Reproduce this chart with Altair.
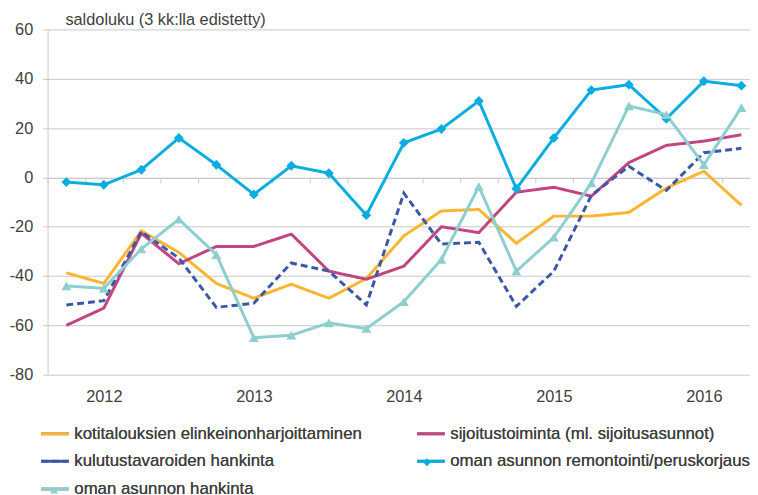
import altair as alt
import pandas as pd

quarters = ["2011Q4", "2012Q1", "2012Q2", "2012Q3", "2012Q4", "2013Q1", "2013Q2",
            "2013Q3", "2013Q4", "2014Q1", "2014Q2", "2014Q3", "2014Q4", "2015Q1",
            "2015Q2", "2015Q3", "2015Q4", "2016Q1", "2016Q2"]

series_names = [
    "kotitalouksien elinkeinonharjoittaminen",
    "sijoitustoiminta (ml. sijoitusasunnot)",
    "kulutustavaroiden hankinta",
    "oman asunnon remontointi/peruskorjaus",
    "oman asunnon hankinta",
]

kotitalous = [-38.7, -43, -21.7, -30.4, -43, -49, -43.3, -49, -41, -23.7, -13.6, -13,
              -26.7, -15.7, -15.7, -14.2, -4.3, 2.5, -11.3]
sijoitus = [-60, -53, -22.7, -35, -28, -28, -23, -38, -41.3, -36, -20, -22.4, -6, -4,
            -7.6, 6, 13, 14.7, 17.3]
kulutus = [-51.7, -50, -22, -32.7, -52.7, -51, -34.7, -38, -51.7, -6.4, -27, -26.3,
           -52.3, -38, -7.3, 4.5, -5.3, 10, 11.8]
remontointi = [-1.9, -3, 3.1, 16, 5.1, -6.9, 4.7, 1.7, -15.3, 14, 19.6, 31, -4.6, 16,
               35.4, 37.6, 23.8, 39, 37.2]
hankinta = [-44, -45, -29, -17, -31.3, -65, -64, -59, -61.3, -50.4, -33.3, -3.7, -38,
            -24.3, -2.3, 29, 25.4, 5.1, 28.3]

colors = ["#FBB534", "#C2457F", "#3A58A8", "#0AADE0", "#8DCFCE"]
dashes = [[1, 0], [1, 0], [7, 4], [1, 0], [1, 0]]
EMPTY = "M0,0"
shapes = [EMPTY, EMPTY, EMPTY, "diamond", "triangle-up"]

y_title = "saldoluku  (3 kk:lla edistetty)"

rows = []
for name, vals in zip(series_names, [kotitalous, sijoitus, kulutus, remontointi, hankinta]):
    for i, (q, v) in enumerate(zip(quarters, vals)):
        rows.append({"i": i, "q": q, "series": name, "value": v})
df = pd.DataFrame(rows)

# legend is filled column by column: reorder so it reads row by row (2 columns)
leg_order = [k for c in range(2) for k in range(c, len(series_names), 2)]
leg_names = [series_names[k] for k in leg_order]
leg_colors = [colors[k] for k in leg_order]
leg_dashes = [dashes[k] for k in leg_order]
leg_shapes = [shapes[k] for k in leg_order]

# year label positions: first quarter of each year
year_pos = [i for i, q in enumerate(quarters) if q.endswith("Q1")]
label_expr = " : ".join(f"datum.value == {i} ? '{quarters[i][:4]}'" for i in year_pos) + " : ''"
boundaries = [i - 0.5 for i in range(len(quarters) + 1)]

GRID = "#C8C8C8"
TXT = "#404040"
FONT = "Liberation Sans"

xscale = alt.Scale(domain=[-0.5, 18.23], nice=False, zero=False)
yscale = alt.Scale(domain=[-80, 60], nice=False, zero=False)

legend = alt.Legend(
    orient="none", legendX=-8, legendY=393, columns=2, columnPadding=48, rowPadding=4,
    symbolType="stroke", symbolSize=784, symbolStrokeWidth=3, labelFontSize=17,
    labelFont=FONT, labelColor=TXT, labelOffset=4, labelLimit=500, title=None, padding=0,
)

# marker overlay legend: same grid, no labels, small markers centred on the strokes
mk_legend = alt.Legend(
    orient="none", legendX=-8, legendY=401, columns=2, columnPadding=329, rowPadding=10,
    symbolSize=64, symbolOffset=6, labelFontSize=17, labelFont=FONT, labelExpr="''",
    labelOffset=25, labelLimit=500, title=None, padding=0, symbolStrokeWidth=0,
)

lines = alt.Chart(df).mark_line(strokeWidth=3).encode(
    x=alt.X("i:Q", scale=xscale,
            axis=alt.Axis(orient="bottom", values=year_pos, labelExpr=label_expr,
                          domain=False, ticks=False, grid=False, title=None,
                          labelFontSize=16.5, labelPadding=14, labelFont=FONT,
                          labelColor=TXT)),
    y=alt.Y("value:Q", scale=yscale,
            axis=alt.Axis(values=list(range(-80, 61, 20)), grid=True, gridColor=GRID,
                          domainColor=GRID, tickColor=GRID, tickSize=5, labelPadding=10,
                          labelExpr="'' + datum.value",
                          labelFontSize=16.5, labelFont=FONT, labelColor=TXT, title=None)),
    color=alt.Color("series:N", scale=alt.Scale(domain=leg_names, range=leg_colors), legend=legend),
    strokeDash=alt.StrokeDash("series:N", scale=alt.Scale(domain=leg_names, range=leg_dashes), legend=legend),
    detail="series:N",
)

marker_df = df[df.series.isin([series_names[3], series_names[4]])]
markers = alt.Chart(marker_df).mark_point(filled=True, size=100, opacity=1).encode(
    x=alt.X("i:Q", scale=xscale,
            axis=alt.Axis(orient="bottom", offset=-199, values=boundaries, labels=False,
                          ticks=True, tickSize=5, tickColor=GRID, domain=True,
                          domainColor=GRID, grid=False, title=None)),
    y=alt.Y("value:Q", scale=yscale),
    color=alt.Color("series:N", scale=alt.Scale(domain=leg_names, range=leg_colors), legend=mk_legend),
    shape=alt.Shape("series:N", scale=alt.Scale(domain=leg_names, range=leg_shapes), legend=mk_legend),
)

title = alt.Chart(pd.DataFrame({"t": [y_title]})).mark_text(
    align="left", baseline="alphabetic", fontSize=16.5, font=FONT, color=TXT
).encode(text="t:N", x=alt.value(18), y=alt.value(-4))

chart = alt.layer(lines, markers, title).resolve_scale(
    color="independent", shape="independent"
).resolve_axis(x="independent").properties(
    width=710, height=349,
    autosize=alt.AutoSizeParams(type="none"),
    padding={"left": 40, "top": 19, "right": 0, "bottom": 124},
).configure_view(stroke=None)

chart.save("out.html", embed_options={"renderer": "svg", "actions": False})
